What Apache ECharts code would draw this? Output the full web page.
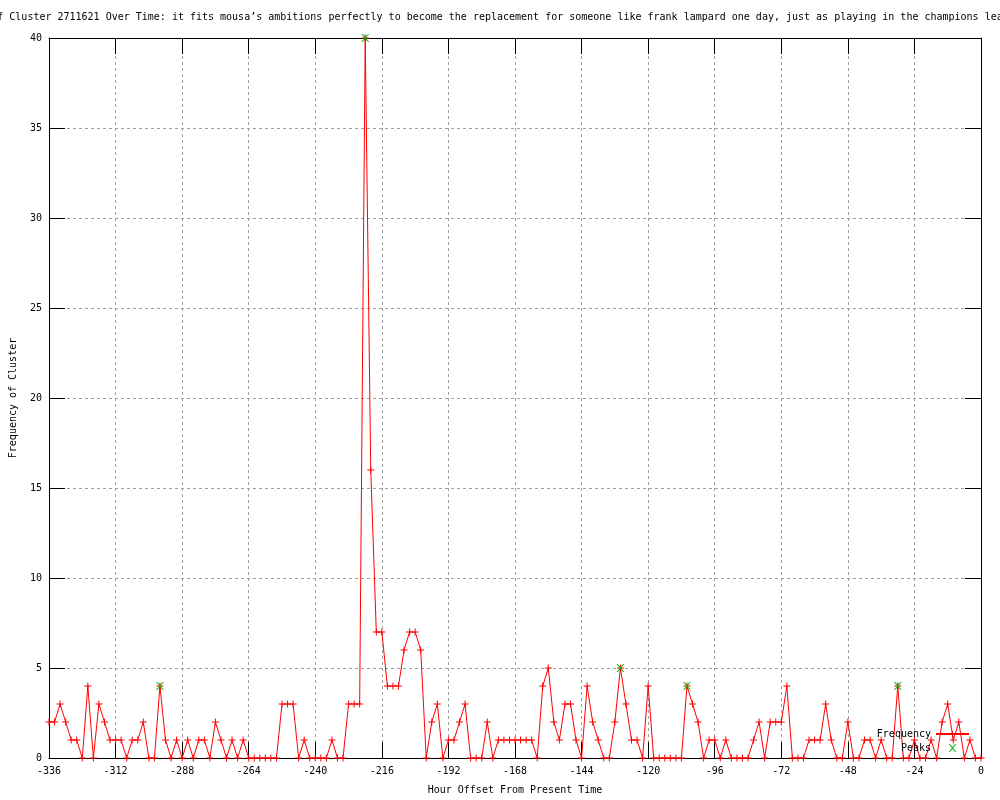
<!DOCTYPE html>
<html>
<head>
<meta charset="utf-8">
<script src="https://cdn.jsdelivr.net/npm/echarts@6/dist/echarts.min.js"></script>
<style>html,body{margin:0;padding:0;background:#fff}#c{width:1000px;height:800px}</style>
</head>
<body>
<div id="c"></div>
<script>
const titleText = "Frequency of Cluster 2711621 Over Time: it fits mousa\u2019s ambitions perfectly to become the replacement for someone like frank lampard one day, just as playing in the champions league as well";
const xAxisName = "Hour Offset From Present Time";
const yAxisName = "Frequency of Cluster";
const seriesNames = ["Frequency", "Peaks"];

const hours = [-336,-334,-332,-330,-328,-326,-324,-322,-320,-318,-316,-314,-312,-310,-308,-306,-304,-302,-300,-298,
-296,-294,-292,-290,-288,-286,-284,-282,-280,-278,-276,-274,-272,-270,-268,-266,-264,-262,-260,-258,
-256,-254,-252,-250,-248,-246,-244,-242,-240,-238,-236,-234,-232,-230,-228,-226,-224,-222,-220,-218,
-216,-214,-212,-210,-208,-206,-204,-202,-200,-198,-196,-194,-192,-190,-188,-186,-184,-182,-180,-178,
-176,-174,-172,-170,-168,-166,-164,-162,-160,-158,-156,-154,-152,-150,-148,-146,-144,-142,-140,-138,
-136,-134,-132,-130,-128,-126,-124,-122,-120,-118,-116,-114,-112,-110,-108,-106,-104,-102,-100,-98,
-96,-94,-92,-90,-88,-86,-84,-82,-80,-78,-76,-74,-72,-70,-68,-66,-64,-62,-60,-58,
-56,-54,-52,-50,-48,-46,-44,-42,-40,-38,-36,-34,-32,-30,-28,-26,-24,-22,-20,-18,
-16,-14,-12,-10,-8,-6,-4,-2,0];

const frequency = [2,2,3,2,1,1,0,4,0,3,2,1,1,1,0,1,1,2,0,0,
4,1,0,1,0,1,0,1,1,0,2,1,0,1,0,1,0,0,0,0,
0,0,3,3,3,0,1,0,0,0,0,1,0,0,3,3,3,40,16,7,
7,4,4,4,6,7,7,6,0,2,3,0,1,1,2,3,0,0,0,2,
0,1,1,1,1,1,1,1,0,4,5,2,1,3,3,1,0,4,2,1,
0,0,2,5,3,1,1,0,4,0,0,0,0,0,0,4,3,2,0,1,
1,0,1,0,0,0,0,1,2,0,2,2,2,4,0,0,0,1,1,1,
3,1,0,0,2,0,0,1,1,0,1,0,0,4,0,0,1,0,0,1,
0,2,3,1,2,0,1,0,0];

const peakHours = [-296,-222,-130,-106,-30];
const peakValues = [4,40,5,4,4];

const xTicks = {min:-336, max:0, interval:24};
const yTicks = {min:0, max:40, interval:5};

const FONT = "DejaVu Sans Mono";
const plusPath = 'path://M0,3L3,3L3,0L4,0L4,3L7,3L7,4L4,4L4,7L3,7L3,4L0,4Z';
const crossPath = 'path://M0,0L1,0L3.5,2.5L6,0L7,0L4,3.5L7,7L6,7L3.5,4.5L1,7L0,7L3,3.5Z';

const chart = echarts.init(document.getElementById('c'), null, {renderer:'canvas'});

const axisBase = {
  axisLine:{show:true, onZero:false, lineStyle:{color:'#000', width:1}},
  axisTick:{show:true, inside:true, length:16, lineStyle:{color:'#000', width:1}},
};

chart.setOption({
  animation:false,
  backgroundColor:'#fff',
  title:{
    text:titleText, left:'center', top:7,
    textStyle:{fontFamily:FONT, fontSize:10, fontWeight:'normal', color:'#000'}
  },
  grid:{left:49, right:19, top:38, bottom:40, containLabel:false},
  legend:{
    orient:'vertical', align:'right', right:25, top:724, itemGap:4,
    itemWidth:33, itemHeight:8,
    data:seriesNames,
    textStyle:{fontFamily:FONT, fontSize:10, color:'#000', padding:[0,0,0,0]}
  },
  xAxis:[
    Object.assign({
      type:'value', min:xTicks.min, max:xTicks.max, interval:xTicks.interval, position:'bottom',
      name:xAxisName, nameLocation:'middle', nameGap:27,
      nameTextStyle:{fontFamily:FONT, fontSize:10, color:'#000'},
      axisLabel:{fontFamily:FONT, fontSize:10, color:'#000', margin:8},
      splitLine:{show:true, lineStyle:{color:'#a0a0a0', type:[3,3], width:1}}
    }, axisBase),
    Object.assign({
      type:'value', min:xTicks.min, max:xTicks.max, interval:xTicks.interval, position:'top',
      axisLabel:{show:false}, splitLine:{show:false}
    }, axisBase)
  ],
  yAxis:[
    Object.assign({
      type:'value', min:yTicks.min, max:yTicks.max, interval:yTicks.interval, position:'left',
      name:yAxisName, nameLocation:'middle', nameGap:31,
      nameTextStyle:{fontFamily:FONT, fontSize:10, color:'#000'},
      axisLabel:{fontFamily:FONT, fontSize:10, color:'#000', margin:7},
      splitLine:{show:true, lineStyle:{color:'#a0a0a0', type:[3,3], width:1}}
    }, axisBase),
    Object.assign({
      type:'value', min:yTicks.min, max:yTicks.max, interval:yTicks.interval, position:'right',
      axisLabel:{show:false}, splitLine:{show:false}
    }, axisBase)
  ],
  series:[
    {
      name:seriesNames[0], type:'line',
      data:hours.map((h,i)=>[h, frequency[i]]),
      symbol:plusPath, symbolSize:7, showSymbol:true, showAllSymbol:true,
      itemStyle:{color:'#ff0000'},
      lineStyle:{color:'#ff0000', width:1},
      clip:false, z:3
    },
    {
      name:seriesNames[1], type:'scatter',
      data:peakHours.map((h,i)=>[h, peakValues[i]]),
      symbol:crossPath, symbolSize:8,
      itemStyle:{color:'#00b000', opacity:0.9},
      z:4
    }
  ]
});
</script>
</body>
</html>
